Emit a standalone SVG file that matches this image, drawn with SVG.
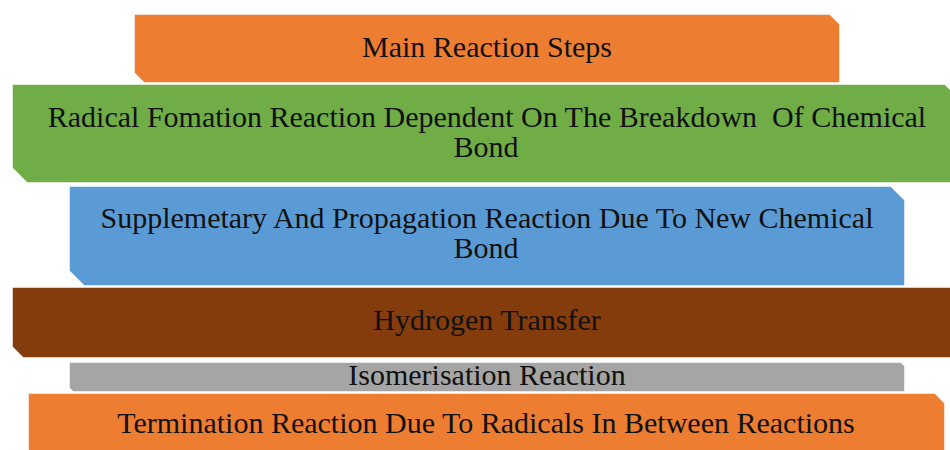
<svg xmlns="http://www.w3.org/2000/svg" width="950" height="450" viewBox="0 0 950 450">
  <style>
    .band { stroke: #ffffff; stroke-width: 1.5; }
    .label { font-family: "Liberation Serif", "Times New Roman", serif; font-size: 30px; fill: #111111; text-anchor: middle; white-space: pre; }
  </style>
  <rect width="950" height="450" fill="#ffffff"/>

  <g id="main-steps">
    <polygon class="band" fill="#ED7D31" points="134,14 830,14 840,24 840,83 144,83 134,73"/>
    <text class="label" x="487" y="57">Main Reaction Steps</text>
  </g>

  <g id="radical-formation">
    <polygon class="band" fill="#70AD47" points="12,84 945,84 960,99 960,183 27,183 12,168"/>
    <text class="label" x="487" y="127" xml:space="preserve">Radical Fomation Reaction Dependent On The Breakdown  Of Chemical</text>
    <text class="label" x="486" y="157">Bond</text>
  </g>

  <g id="propagation">
    <polygon class="band" fill="#5B9BD5" points="69,186 891,186 905,200 905,286 84,286 69,271"/>
    <text class="label" x="487" y="228">Supplemetary And Propagation Reaction Due To New Chemical</text>
    <text class="label" x="486" y="258">Bond</text>
  </g>

  <g id="hydrogen-transfer">
    <polygon class="band" fill="#843C0C" points="12,287 950,287 960,297 960,358 23,358 12,347"/>
    <text class="label" x="487" y="330">Hydrogen Transfer</text>
  </g>

  <g id="isomerisation">
    <polygon class="band" fill="#A5A5A5" points="69,362 901,362 905,366 905,392 73,392 69,388"/>
    <text class="label" x="487" y="385">Isomerisation Reaction</text>
  </g>

  <g id="termination">
    <polygon class="band" fill="#ED7D31" points="28,393 935,393 945,403 945,460 38,460 28,450"/>
    <text class="label" x="486" y="433">Termination Reaction Due To Radicals In Between Reactions</text>
  </g>
</svg>
